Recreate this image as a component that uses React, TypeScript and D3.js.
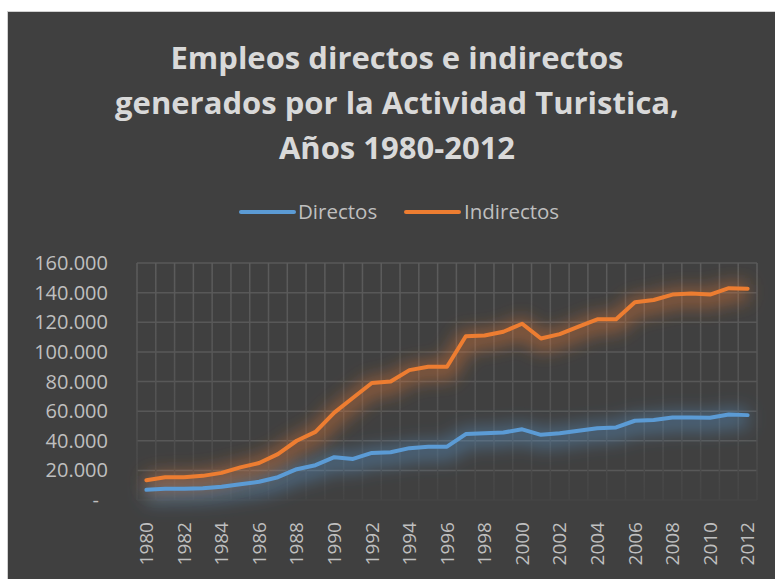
import React from 'react';
import * as d3 from 'd3';

const years = d3.range(1980, 2013).map(String);

const directos = [
  6900, 7600, 7600, 8000, 8900, 10700, 12300, 15400, 20800, 23500, 28900,
  27700, 31800, 32200, 35000, 36000, 36000, 44500, 45000, 45600, 47700,
  44000, 45000, 46800, 48500, 49000, 53500, 54000, 55700, 55700, 55500,
  57700, 57300,
];

const indirectos = [
  13400, 15400, 15400, 16300, 18300, 22000, 25000, 31000, 40000, 46000, 59000,
  69000, 79000, 80000, 87700, 90000, 90000, 110500, 111000, 113600, 119000,
  109000, 112000, 117000, 122000, 122000, 133500, 135000, 138700, 139400,
  138700, 143000, 142700,
];

const yTicks = [0, 20000, 40000, 60000, 80000, 100000, 120000, 140000, 160000];

const titleLines = [
  'Empleos directos e indirectos',
  'generados por la Actividad Turistica,',
  'Años 1980-2012',
];

const series = [
  { name: 'Directos', values: directos, color: '#5b9bd5' },
  { name: 'Indirectos', values: indirectos, color: '#ed7d31' },
];

const W = 775;
const H = 579;
const plot = { left: 137, right: 757, top: 263, bottom: 500 };
const font = "'Open Sans', sans-serif";

const App = () => {
  const x = d3.scaleBand().domain(years).range([plot.left, plot.right]);
  const y = d3.scaleLinear().domain([0, 160000]).range([plot.bottom, plot.top]);
  const fmt = (v: number) => (v === 0 ? '-' : d3.format(',')(v).replace(/,/g, '.'));

  const line = (vals: number[]) =>
    d3.line<number>()
      .x((_, i) => (x(years[i]) as number) + x.bandwidth() / 2)
      .y(d => y(d))(vals) as string;

  const bounds = years.map(yr => x(yr) as number).concat([plot.right]);

  return (
    <svg width={W} height={H} style={{ position: 'absolute', left: 0, top: 0 }}>
      <defs>
        <filter id="glow" x="-20%" y="-50%" width="140%" height="200%">
          <feGaussianBlur stdDeviation="9" />
        </filter>
        <linearGradient id="gridFade" x1="0" y1={plot.top} x2="0" y2={plot.bottom} gradientUnits="userSpaceOnUse">
          <stop offset="0%" stopColor="#5c5c5c" />
          <stop offset="60%" stopColor="#535353" />
          <stop offset="100%" stopColor="#454545" />
        </linearGradient>
      </defs>
      <rect x={0} y={0} width={W} height={H} fill="#ffffff" />
      <rect x={7.5} y={11.5} width={W} height={H} fill="#404040" stroke="#d0d0d0" strokeWidth={1} />

      {titleLines.map((t, i) => (
        <text key={t} x={397} y={69 + i * 45} textAnchor="middle" fill="#d9d9d9"
          fontFamily={font} fontWeight={700} fontSize={31}>{t}</text>
      ))}

      {/* legend */}
      <g fontFamily={font} fontSize={20.5} fill="#bfbfbf">
        <line x1={241} x2={294} y1={212} y2={212} stroke={series[0].color} strokeWidth={4} strokeLinecap="round" />
        <text x={298} y={219}>{series[0].name}</text>
        <line x1={406} x2={459} y1={212} y2={212} stroke={series[1].color} strokeWidth={4} strokeLinecap="round" />
        <text x={464} y={219}>{series[1].name}</text>
      </g>

      {/* grid */}
      <g strokeWidth={1.5}>
        {yTicks.map(t => (
          <line key={t} x1={plot.left} x2={plot.right} y1={y(t)} y2={y(t)} stroke={t === 0 ? '#454545' : '#585858'} />
        ))}
        {bounds.map((b, i) => (
          <line key={i} x1={b} x2={b} y1={plot.top} y2={plot.bottom} stroke="url(#gridFade)" />
        ))}
      </g>

      {/* y axis labels */}
      <g fontFamily={font} fontSize={20} fill="#bfbfbf">
        {yTicks.map(t => (
          <text key={t} x={t === 0 ? 99 : 108} y={y(t)} dy="0.35em" textAnchor="end">{fmt(t)}</text>
        ))}
      </g>

      {/* x axis labels */}
      <g fontFamily={font} fontSize={19} fill="#bfbfbf">
        {years.map((yr, i) => i % 2 === 0 && (
          <text key={yr} textAnchor="end" dy="0.35em"
            transform={`translate(${(x(yr) as number) + x.bandwidth() / 2},522) rotate(-90)`}>{yr}</text>
        ))}
      </g>

      {/* glow */}
      {series.map(s => (
        <path key={s.name + 'g'} d={line(s.values)} fill="none" stroke={s.color}
          strokeWidth={18} strokeOpacity={0.45} filter="url(#glow)" transform="translate(0,4)" />
      ))}
      {series.map(s => (
        <path key={s.name} d={line(s.values)} fill="none" stroke={s.color}
          strokeWidth={4} strokeLinejoin="round" strokeLinecap="round" />
      ))}
    </svg>
  );
};

export default App;
